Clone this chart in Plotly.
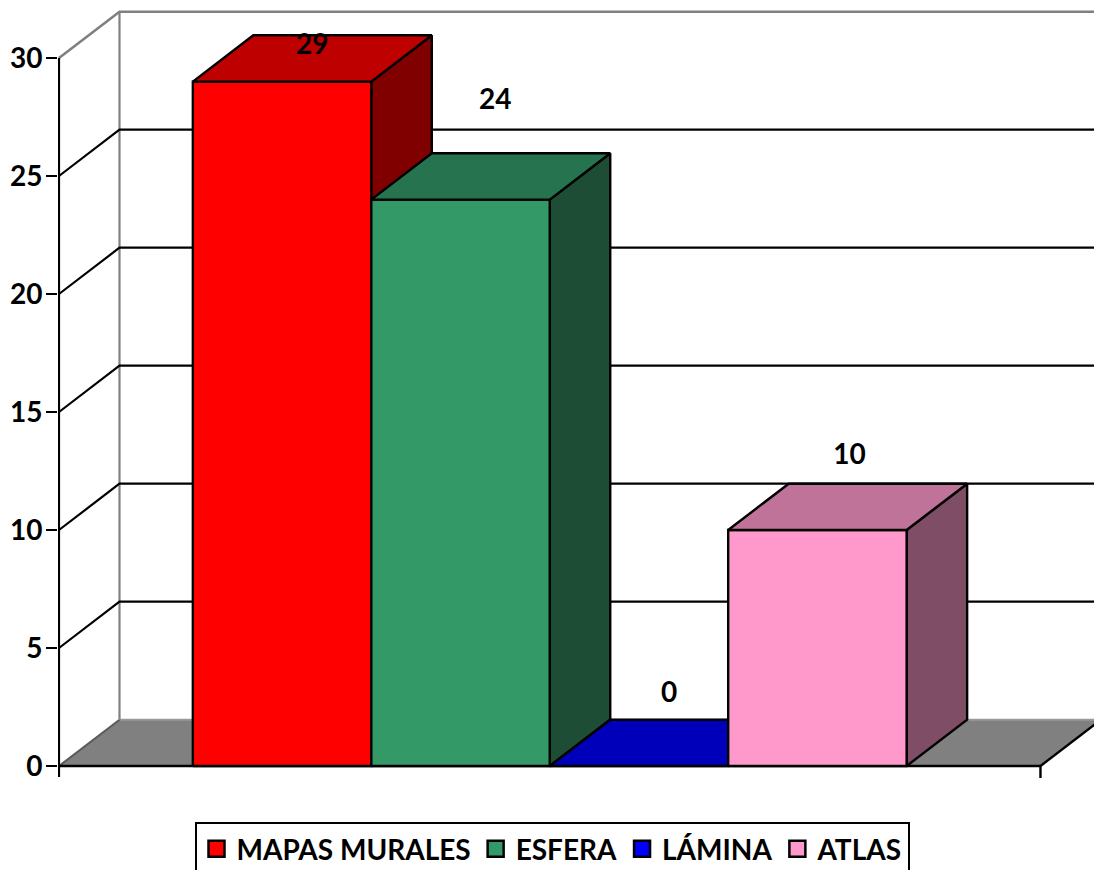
import plotly.graph_objects as go

# ---------------- data ----------------
categories = ["MAPAS MURALES", "ESFERA", "LÁMINA", "ATLAS"]
values = [29, 24, 0, 10]
y_ticks = [0, 5, 10, 15, 20, 25, 30]
y_max = 30

# ---------------- style ----------------
front_colors = ["#FF0000", "#339966", "#0000FF", "#FF99CC"]
top_colors = ["#BF0000", "#267350", "#0000BB", "#BF7399"]
side_colors = ["#800000", "#1E4D35", "#000080", "#804D66"]
label_lift = [1.47, 4.14, 3.0, 3.09]   # label height above bar value (value units)
label_shift = [0.0, 0.025, 0.0, 0.01]  # small horizontal nudge (category units)
FONT = "Lato"

# ---------------- geometry calibration ----------------
W, H = 1094, 870
PX_X = 178.45          # pixels per category unit
PX_Y = 23.6            # pixels per value unit
ML, MB = 58, 80
PLOT_W = W - ML
PLOT_H = H - MB
Y0_PX = 766            # pixel row of value 0 (front)
FRONT_PX = 59          # pixel column of the front-left edge
DX = 60.5 / PX_X       # depth offset (x)
DY = 46.3 / PX_Y       # depth offset (y)
GAP = 0.75
n = len(values)
X_LEFT = -0.5 - GAP
X_RIGHT = n - 0.5 + GAP
x0r = X_LEFT - (FRONT_PX - ML) / PX_X
x_range = [x0r, x0r + PLOT_W / PX_X]
y_range = [-(PLOT_H - Y0_PX) / PX_Y, Y0_PX / PX_Y]
X_FAR = x_range[1] + 1

fig = go.Figure()


def poly(xs, ys, fill, line_color="black", width=2.4):
    fig.add_trace(go.Scatter(
        x=list(xs) + [xs[0]], y=list(ys) + [ys[0]], mode="lines", fill="toself",
        fillcolor=fill, line=dict(color=line_color, width=width),
        hoverinfo="skip", showlegend=False))


def seg(xs, ys, color, width=2):
    fig.add_trace(go.Scatter(
        x=xs, y=ys, mode="lines", line=dict(color=color, width=width),
        hoverinfo="skip", showlegend=False))


# floor
poly([X_LEFT, X_RIGHT, X_RIGHT + DX, X_LEFT + DX], [0, 0, DY, DY], "#808080",
     line_color="rgba(0,0,0,0)", width=0)
seg([X_LEFT + DX, X_FAR], [DY, DY], "#9A9A9A")
seg([X_LEFT, X_LEFT + DX], [0, DY], "#5A5A5A")

# walls (gray frame)
seg([X_LEFT + DX, X_LEFT + DX], [DY, y_max + DY], "#808080", 2.2)
seg([X_LEFT, X_LEFT + DX, X_FAR], [y_max, y_max + DY, y_max + DY], "#808080", 2.6)

# gridlines on side and back walls
for t in y_ticks:
    if 0 < t < y_max:
        seg([X_LEFT, X_LEFT + DX, X_FAR], [t, t + DY, t + DY], "black", 2.2)

# front axes
seg([X_LEFT, X_LEFT], [y_max, -11 / PX_Y], "black", 2.2)
seg([X_LEFT, X_RIGHT, X_RIGHT], [0, 0, -12 / PX_Y], "black", 2.4)
seg([X_RIGHT, X_RIGHT + DX], [0, DY], "black", 2.4)

# bars
for i, v in enumerate(values):
    xa, xb = i - 0.5, i + 0.5
    if v > 0:
        poly([xb, xb + DX, xb + DX, xb], [0, DY, v + DY, v], side_colors[i])
        poly([xa, xb, xb, xa], [0, 0, v, v], front_colors[i])
    poly([xa, xb, xb + DX, xa + DX], [v, v, v + DY, v + DY], top_colors[i])

# data labels
fig.add_trace(go.Scatter(
    x=[i + DX / 2 + label_shift[i] for i in range(n)],
    y=[v + label_lift[i] for i, v in enumerate(values)],
    text=[str(v) for v in values], mode="text",
    textfont=dict(family=FONT, size=28, color="black", weight="bold"),
    hoverinfo="skip", showlegend=False, cliponaxis=False))

# legend entries
for i, c in enumerate(categories):
    fig.add_trace(go.Scatter(
        x=[None], y=[None], mode="markers", name=c,
        marker=dict(symbol="square", size=16, color=front_colors[i],
                    line=dict(color="black", width=2.5))))

fig.update_layout(
    width=W, height=H,
    margin=dict(l=ML, r=0, t=0, b=MB, autoexpand=False),
    paper_bgcolor="white", plot_bgcolor="white",
    xaxis=dict(range=x_range, visible=False, fixedrange=True),
    yaxis=dict(range=y_range, tickvals=y_ticks, ticktext=[str(t) for t in y_ticks],
               showgrid=False, zeroline=False, showline=False, automargin=False,
               ticks="outside", ticklen=11, tickwidth=2.2, tickcolor="black",
               ticklabelstandoff=-2,
               tickfont=dict(family=FONT, size=28, color="black", weight="bold"),
               fixedrange=True),
    legend=dict(orientation="h", x=(552 - ML) / PLOT_W, xanchor="center",
                y=(PLOT_H - 822) / PLOT_H, yanchor="top",
                bordercolor="black", borderwidth=2, bgcolor="white",
                font=dict(family=FONT, size=28, color="black", weight="bold"),
                itemsizing="trace", tracegroupgap=0, itemwidth=30),
    showlegend=True,
)

fig.write_html("out.html", config={"displayModeBar": False},
               post_script="document.body.style.margin='0';")
